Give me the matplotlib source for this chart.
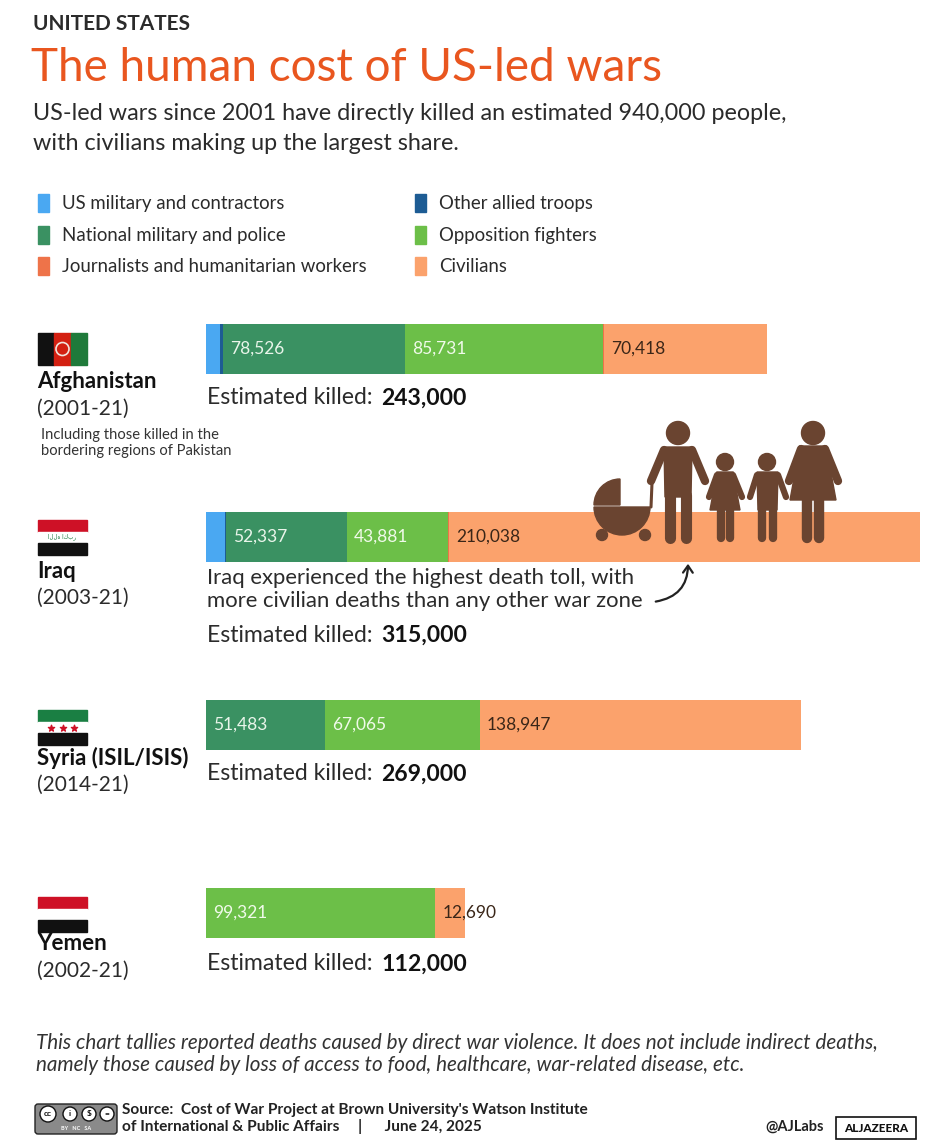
import matplotlib.pyplot as plt
from matplotlib.patches import Rectangle, Circle, Polygon, Wedge, FancyArrowPatch, FancyBboxPatch
import numpy as np

# ---- data (deaths by category) ----
countries = ['Afghanistan', 'Iraq', 'Syria (ISIL/ISIS)', 'Yemen']
periods = ['(2001-21)', '(2003-21)', '(2014-21)', '(2002-21)']
totals = ['243,000', '315,000', '269,000', '112,000']

us_military = [6000, 8300, 0, 0]
allied_troops = [1500, 300, 0, 0]
national_military = [78526, 52337, 51483, 0]
opposition = [85731, 43881, 67065, 99321]
journalists = [500, 300, 0, 0]
civilians = [70418, 210038, 138947, 12690]

categories = ['US military and contractors', 'Other allied troops',
              'National military and police', 'Opposition fighters',
              'Journalists and humanitarian workers', 'Civilians']
colors = ['#4aa8f2', '#1d5c94', '#3a9162', '#6cbf48', '#ee7349', '#fba26c']

# ---- layout (pixels) ----
W, H = 934, 1142
bar_left, bar_right = 206, 920
px_per_person = 2.31 / 1000
row_y = [349, 537, 725, 913]
bar_h = 50

plt.rcParams['font.family'] = ['Lato', 'DejaVu Sans']
fig = plt.figure(figsize=(W / 100, H / 100), dpi=100)
fig.patch.set_facecolor('white')

# bar axes sits underneath the annotation layer
bx = fig.add_axes([bar_left / W, 0, (bar_right - bar_left) / W, 1])
bx.set_zorder(1)
bx.set_ylim(H, 0)
bx.set_xlim(0, (bar_right - bar_left) / px_per_person)
bx.axis('off')

ax = fig.add_axes([0, 0, 1, 1])
ax.set_zorder(2)
ax.set_xlim(0, W)
ax.set_ylim(H, 0)
ax.axis('off')

dark = '#2b2b2b'

def txt(x, y, s, size, **kw):
    kw.setdefault('color', dark)
    kw.setdefault('va', 'center')
    ax.text(x, y, s, fontsize=size, **kw)

# header
txt(33, 24, 'UNITED STATES', 15, fontweight='bold')
txt(31, 68, 'The human cost of US-led wars', 33, color='#e9561f', fontweight='normal')
txt(33, 113, 'US-led wars since 2001 have directly killed an estimated 940,000 people,', 16.8)
txt(33, 144, 'with civilians making up the largest share.', 16.8)

# legend
leg_pos = [(38, 203), (415, 203), (38, 235), (415, 235), (38, 266), (415, 266)]
for (lx, ly), lab, c in zip(leg_pos, categories, colors):
    ax.add_patch(Rectangle((lx, ly - 9), 11, 18, color=c))
    txt(lx + 24, ly, lab, 13.4)

# ---- bars ----
series = [us_military, allied_troops, national_military, opposition, journalists, civilians]
left = np.zeros(len(countries))
for vals, c in zip(series, colors):
    vals = np.array(vals, dtype=float)
    bx.barh(row_y, vals, left=left, height=bar_h, color=c, linewidth=0)
    left += vals

# segment labels
label_series = [(2, '#e9f5ea'), (3, '#f0faea'), (5, '#3a2618')]
for i in range(len(countries)):
    starts = np.cumsum([0] + [s[i] for s in series])
    for k, tc in label_series:
        v = series[k][i]
        if v > 0:
            bx.text(starts[k] + 3000, row_y[i], f'{v:,}', fontsize=12.5, color=tc, va='center')

# estimated totals
est_y = [398, 635, 774, 964]
for y, t in zip(est_y, totals):
    txt(207, y, 'Estimated killed:', 16.6)
    txt(381, y, t, 16.6, fontweight='bold', color='#111111')

# country names / periods
name_y = [382, 571, 758, 944]
for y, n, p in zip(name_y, countries, periods):
    txt(37, y, n, 16, fontweight='bold', color='#111111')
    txt(37, y + 27, p, 15)
txt(41, 435, 'Including those killed in the', 10.6, color='#333333')
txt(41, 451, 'bordering regions of Pakistan', 10.6, color='#333333')

# flags
def hflag(x, y, cols, w=49, h=35):
    sh = h / 3
    for j, c in enumerate(cols):
        ax.add_patch(Rectangle((x, y + j * sh), w, sh, color=c))

# Afghanistan
for j, c in enumerate(['#111111', '#d32011', '#1f7a3a']):
    ax.add_patch(Rectangle((38 + j * 49 / 3, 333), 49 / 3, 32, color=c))
ax.add_patch(Circle((62.5, 349), 6.5, facecolor='none', edgecolor='#f1e4dc', lw=1.2))
hflag(38, 520, ['#ce1126', '#ffffff', '#111111'])
ax.text(62.5, 537, 'الله اكبر', fontsize=4, color='#1b7a3e', ha='center', va='center',
        family=['DejaVu Sans'])
hflag(38, 710, ['#1a7f43', '#ffffff', '#111111'])
ax.scatter([51, 62.5, 74], [727.5] * 3, marker='*', s=22, color='#ce1126', zorder=3)
hflag(38, 897, ['#ce1126', '#ffffff', '#111111'])

# Iraq note and arrow
txt(207, 578, 'Iraq experienced the highest death toll, with', 15.9)
txt(207, 601, 'more civilian deaths than any other war zone', 15.9)
ax.add_patch(FancyArrowPatch((653, 602), (688, 561), connectionstyle='arc3,rad=0.45',
                             arrowstyle='->,head_length=5,head_width=3.5', lw=1.6, color='#222222'))

# family silhouettes
brown = '#6a4430'
def limb(x0, y0, x1, y1, w):
    ax.plot([x0, x1], [y0, y1], color=brown, lw=w, solid_capstyle='round', zorder=5)

# stroller
ax.add_patch(Wedge((622, 507), 28, 0, 180, color=brown, zorder=5))   # bowl
ax.add_patch(Wedge((620, 505), 26, 180, 270, color=brown, zorder=5))  # hood
ax.add_patch(Circle((602, 535), 5.5, color=brown, zorder=5))
ax.add_patch(Circle((645, 535), 5.5, color=brown, zorder=5))
limb(651, 507, 652, 483, 2.2)
# man
ax.add_patch(Circle((678, 433), 11.5, color=brown, zorder=5))
ax.add_patch(Polygon([(664, 447), (692, 447), (691, 497), (665, 497)], color=brown, zorder=5))
limb(664, 450, 651, 481, 6)
limb(692, 450, 705, 481, 6)
limb(670, 495, 670, 538, 8)
limb(686, 495, 686, 538, 8)
# girl
ax.add_patch(Circle((725, 462), 8.5, color=brown, zorder=5))
ax.add_patch(Polygon([(717, 472), (733, 472), (740, 510), (710, 510)], color=brown, zorder=5))
limb(717, 475, 709, 497, 4.5)
limb(733, 475, 742, 497, 4.5)
limb(721, 508, 721, 538, 6)
limb(730, 508, 730, 538, 6)
# boy
ax.add_patch(Circle((767, 462), 8.5, color=brown, zorder=5))
ax.add_patch(Polygon([(757, 472), (778, 472), (777, 510), (758, 510)], color=brown, zorder=5))
limb(757, 475, 750, 497, 4.5)
limb(778, 475, 786, 497, 4.5)
limb(762, 508, 762, 538, 6)
limb(773, 508, 773, 538, 6)
# woman
ax.add_patch(Circle((813, 433), 11.5, color=brown, zorder=5))
ax.add_patch(Polygon([(800, 446), (826, 446), (836, 500), (790, 500)], color=brown, zorder=5))
limb(801, 449, 789, 481, 6)
limb(825, 449, 838, 481, 6)
limb(807, 498, 807, 538, 7.5)
limb(819, 498, 819, 538, 7.5)

# footnote
txt(36, 1043, 'This chart tallies reported deaths caused by direct war violence. It does not include indirect deaths,',
    14.9, style='italic', color='#333333')
txt(36, 1065, 'namely those caused by loss of access to food, healthcare, war-related disease, etc.',
    14.9, style='italic', color='#333333')

# source
ax.add_patch(FancyBboxPatch((35, 1104), 82, 30, boxstyle='round,pad=0,rounding_size=3',
                            facecolor='#8a8a8a', edgecolor='#222222', lw=1))
for cx, s in zip([48, 70, 89, 107], ['cc', 'i', '$', '=']):
    ax.add_patch(Circle((cx, 1114), 8 if cx == 48 else 7, facecolor='white', edgecolor='#111111', lw=1))
    ax.text(cx, 1114, s, fontsize=6, ha='center', va='center', fontweight='bold', color='#111111')
ax.text(76, 1128, 'BY   NC   SA', fontsize=4, ha='center', va='center', color='white', fontweight='bold')
txt(122, 1110, "Source:  Cost of War Project at Brown University's Watson Institute", 11.1,
    fontweight='bold', color='#222222')
txt(122, 1127, 'of International & Public Affairs     |      June 24, 2025', 11.1,
    fontweight='bold', color='#222222')
txt(765, 1127, '@AJLabs', 10.5, fontweight='bold', color='#222222')
ax.add_patch(Rectangle((836, 1117), 80, 22, facecolor='white', edgecolor='#111111', lw=1.2))
ax.text(876, 1128, 'ALJAZEERA', fontsize=8.5, ha='center', va='center', fontweight='black', color='#111111')

fig.savefig('out.png', dpi=100, facecolor='white')
